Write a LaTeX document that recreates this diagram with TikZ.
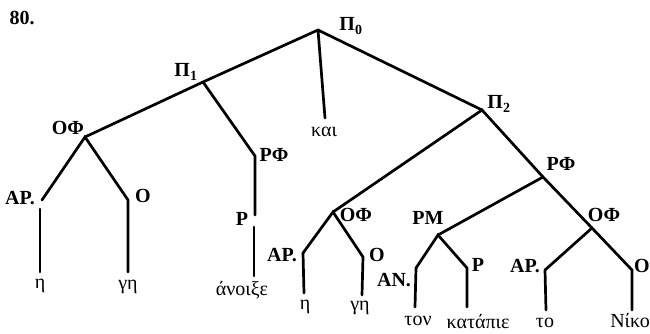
\documentclass[tikz,border=0pt]{standalone}
\usepackage{fontspec}
\setmainfont{Liberation Serif}
\begin{document}
\begin{tikzpicture}[x=1pt,y=-1pt,
  lab/.style={font=\fontsize{20}{20}\selectfont\bfseries, inner sep=0pt},
  word/.style={font=\fontsize{20}{20}\selectfont, inner sep=0pt},
  br/.style={line width=2.7pt, line cap=round}]
\useasboundingbox (0,0) rectangle (650,333);
% number
\node[lab] (num) at (22,18) {80.};
% vertices
\coordinate (p0) at (318,30);
\coordinate (p1) at (203,82);
\coordinate (kai) at (325,118);
\coordinate (p2) at (482,110);
\coordinate (of1) at (85,137);
\coordinate (ap1) at (42,200);
\coordinate (ap1t) at (40,209);
\coordinate (ap1b) at (40,272);
\coordinate (o1) at (128,200);
\coordinate (o1b) at (128,272);
\coordinate (rf1) at (255,156);
\coordinate (rf1b) at (255,215);
\coordinate (pv1) at (254,227);
\coordinate (pv1b) at (254,276);
\coordinate (of2) at (333,212);
\coordinate (ap2) at (303,253);
\coordinate (ap2b) at (304,293);
\coordinate (o2) at (363,257);
\coordinate (o2b) at (362,295);
\coordinate (rf2) at (543,177);
\coordinate (pm) at (438,235);
\coordinate (an) at (416,268);
\coordinate (anb) at (415,307);
\coordinate (pv2) at (467,268);
\coordinate (pv2b) at (467,307);
\coordinate (of3) at (592,228);
\coordinate (ap3) at (545,270);
\coordinate (ap3b) at (546,310);
\coordinate (o3) at (632,270);
\coordinate (o3b) at (632,310);
% branches
\draw[br] (of1) -- (p1) -- (p0) -- (p2);
\draw[br] (p0) -- (kai);
\draw[br] (p1) -- (rf1) -- (rf1b);
\draw[br] (pv1) -- (pv1b);
\draw[br] (ap1) -- (of1) -- (o1) -- (o1b);
\draw[br] (ap1t) -- (ap1b);
\draw[br] (of2) -- (p2) -- (rf2);
\draw[br] (ap2) -- (of2) -- (o2) -- (o2b);
\draw[br] (ap2) -- (ap2b);
\draw[br] (pm) -- (rf2) -- (of3);
\draw[br] (an) -- (pm) -- (pv2) -- (pv2b);
\draw[br] (an) -- (anb);
\draw[br] (ap3) -- (of3) -- (o3) -- (o3b);
\draw[br] (ap3) -- (ap3b);
% labels
\node[lab] (lp0) at (351,26) {Π\textsubscript{0}};
\node[lab] (lp1) at (186,72) {Π\textsubscript{1}};
\node[word] (lkai) at (324,132) {και};
\node[lab] (lp2) at (499,104) {Π\textsubscript{2}};
\node[lab] (lof1) at (68,128) {ΟΦ};
\node[lab] (lap1) at (20,198) {AP.};
\node[lab] (lo1) at (143,196) {O};
\node[word] (w1) at (40,286) {η};
\node[word] (w2) at (128,287) {γη};
\node[lab] (lrf1) at (274,155) {PΦ};
\node[lab] (lpv1) at (242,219) {P};
\node[word] (w3) at (242,290) {άνοιξε};
\node[lab] (lof2) at (356,215) {ΟΦ};
\node[lab] (lap2) at (282,255) {AP.};
\node[lab] (lo2) at (377,255) {O};
\node[word] (w4) at (305,307) {η};
\node[word] (w5) at (360,308) {γη};
\node[lab] (lrf2) at (561,164) {PΦ};
\node[lab] (lpm) at (428,218) {PM};
\node[lab] (lan) at (394,280) {AN.};
\node[lab] (lpv2) at (478,265) {P};
\node[word] (w6) at (418,321) {τον};
\node[word] (w7) at (478,322) {κατάπιε};
\node[lab] (lof3) at (604,215) {ΟΦ};
\node[lab] (lap3) at (525,266) {AP.};
\node[lab] (lo3) at (642,266) {O};
\node[word] (w8) at (545,323) {το};
\node[word] (w9) at (630,321) {Νίκο};
\end{tikzpicture}
\end{document}
